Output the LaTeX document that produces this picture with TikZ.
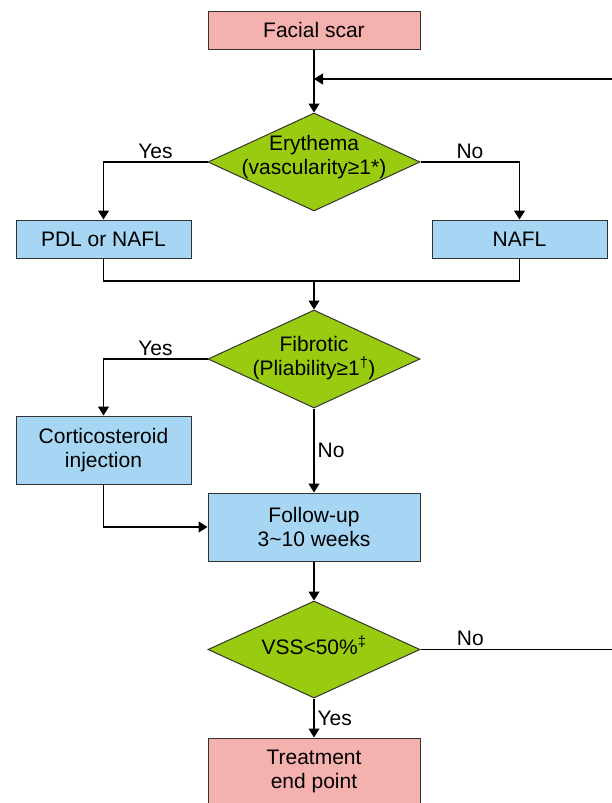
\documentclass[tikz,border=0pt]{standalone}
\usepackage{fontspec}
\setmainfont{Liberation Sans}
\usetikzlibrary{arrows.meta,shapes.geometric}

\begin{document}
\begin{tikzpicture}
		[x=1pt,y=-1pt,line cap=butt,font=\fontsize{21}{24}\selectfont,
		%Styles
		box/.style={draw=boxline,line width=1pt,align=center,inner sep=0pt},
		pink box/.style={box,fill=scarpink,minimum width=212pt,minimum height=#1},
		blue box/.style={box,fill=laserblue,minimum width=#1,minimum height=38pt},
		decision/.style={diamond,draw=boxline,line width=1pt,fill=checkgreen,inner sep=0pt,
			minimum width=212pt,minimum height=98pt},
		dtext/.style={align=center,inner sep=0pt},
		flow/.style={line width=1.2pt,-{Triangle[length=9pt,width=11pt]}},
		link/.style={line width=1.2pt},
		answer/.style={inner sep=3pt}
		]
		
		%Colors
		\definecolor{scarpink}{RGB}{245,177,173}	%start and end
		\definecolor{laserblue}{RGB}{166,214,243}	%treatments
		\definecolor{checkgreen}{RGB}{153,204,17}	%questions
		\colorlet{boxline}{black!80}
		
		\useasboundingbox (0,0) rectangle (612,803);
		
		%The graphic
		\node[pink box=38pt] (scar) at (314,30) {Facial scar};
		\node[decision,label={[dtext,yshift=5pt]center:{Erythema\\(vascularity≥1*)}}] (ery) at (314,162) {};
		\node[blue box=175pt] (pdl) at (103.5,239) {PDL or NAFL};
		\node[blue box=175pt] (nafl) at (519.5,239) {NAFL};
		\node[decision,label={[dtext,yshift=1pt]center:{Fibrotic\\(Pliability≥1\textsuperscript{\dag})}}] (fib) at (314,359) {};
		\node[blue box=175pt,minimum height=68pt] (cort) at (103.5,450) {Corticosteroid\\injection};
		\node[blue box=212pt,minimum height=68pt] (follow) at (314,527) {Follow-up\\3\textasciitilde10 weeks};
		\node[decision,minimum height=97pt,label={[dtext,yshift=4pt]center:{VSS<50\%\textsuperscript{\ddag}}}] (vss) at (314,649.5) {};
		\node[pink box=66pt] (treat) at (314,771) {Treatment\\end point};
		
		\coordinate (back) at (612,79);
		\coordinate (out) at (612,649.5);
		\coordinate (join) at (314,281);
		
		\draw[flow] (scar.south) -- (ery.north);
		\draw[flow] (back) -- (back -| scar.south);
		\draw[flow] (ery.west) -| node[answer,above,pos=0.25] {Yes} (pdl.north);
		\draw[flow] (ery.east) -| node[answer,above,pos=0.25] {No} (nafl.north);
		\draw[link] (pdl.south) |- (join) -| (nafl.south);
		\draw[flow] (join) -- (fib.north);
		\draw[flow] (fib.west) -| node[answer,above,pos=0.25] {Yes} (cort.north);
		\draw[flow] (fib.south) -- node[answer,right] {No} (follow.north);
		\draw[flow] (cort.south) |- (follow.west);
		\draw[flow] (follow.south) -- (vss.north);
		\draw[link] (vss.east) -- node[answer,above,pos=0.26] {No} (out);
		\draw[flow] (vss.south) -- node[answer,right] {Yes} (treat.north);
	\end{tikzpicture}
\end{document}
